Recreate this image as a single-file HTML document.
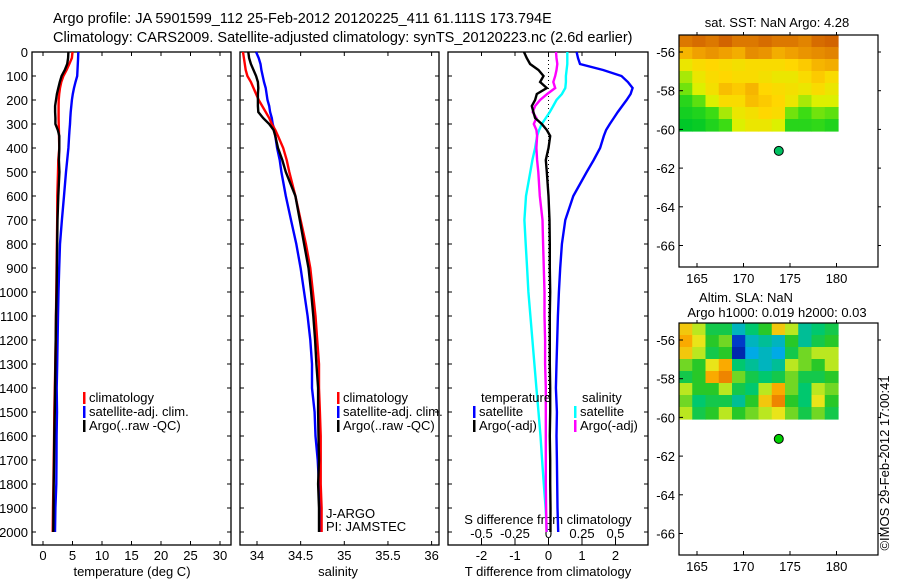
<!DOCTYPE html>
<html><head><meta charset="utf-8"><style>
html,body{margin:0;padding:0;background:#fff;}
svg{display:block;font-family:"Liberation Sans",sans-serif;}
text{fill:#000;}
</style></head><body>
<svg id="fig" width="900" height="580" viewBox="0 0 900 580" xmlns="http://www.w3.org/2000/svg">
<text x="53" y="23" font-size="14.5">Argo profile: JA 5901599_112 25-Feb-2012 20120225_411 61.111S 173.794E</text>
<text x="53" y="42" font-size="14.5">Climatology: CARS2009. Satellite-adjusted climatology: synTS_20120223.nc (2.6d earlier)</text>
<g id="g1"></g>
<g id="g2"></g>
<g id="g3"></g>
<g id="g4"></g>
<g id="g5"></g>
<text transform="translate(889,463) rotate(-90)" text-anchor="middle" font-size="13">©IMOS 29-Feb-2012 17:00:41</text>
</svg>
<script>
const depths=[0,25,50,75,100,125,150,175,200,225,250,275,300,325,350,400,450,500,600,700,800,900,1000,1100,1200,1300,1400,1500,1600,1700,1800,1900,2000];
const tempClim=[5.0,4.9,4.46,4.0,3.45,3.1,2.88,2.75,2.66,2.65,2.65,2.65,2.66,2.7,2.72,2.77,2.6,2.55,2.43,2.4,2.35,2.3,2.25,2.2,2.15,2.08,2.0,1.92,1.88,1.82,1.76,1.7,1.64];
const tempSat=[5.99,5.95,5.9,5.85,5.8,5.5,5.25,5.05,4.9,4.8,4.7,4.62,4.58,4.5,4.42,4.3,4.1,3.9,3.56,3.2,2.88,2.75,2.62,2.55,2.48,2.4,2.32,2.37,2.3,2.28,2.25,2.1,2.03];
const tempArgo=[4.3,4.25,4.1,3.7,3.16,2.85,2.6,2.35,2.2,2.05,2.05,2.1,2.1,2.5,2.77,2.76,2.7,2.78,2.6,2.45,2.4,2.35,2.3,2.2,2.15,2.1,2.05,2.0,1.92,1.88,1.82,1.78,1.75];
const salClim=[33.84,33.85,33.86,33.87,33.89,33.93,33.96,33.99,34.02,34.06,34.10,34.14,34.17,34.21,34.24,34.30,34.34,34.37,34.44,34.50,34.56,34.61,34.64,34.67,34.69,34.71,34.71,34.72,34.73,34.73,34.73,34.74,34.74];
const salSat=[33.99,34.02,34.04,34.05,34.065,34.08,34.1,34.11,34.12,34.14,34.15,34.17,34.18,34.2,34.21,34.23,34.26,34.28,34.33,34.39,34.45,34.50,34.54,34.58,34.61,34.63,34.63,34.66,34.67,34.695,34.71,34.72,34.73];
const salArgo=[33.90,33.91,33.93,33.96,33.99,34.01,34.015,34.01,34.01,34.01,34.015,34.07,34.14,34.19,34.21,34.24,34.29,34.33,34.44,34.49,34.54,34.59,34.62,34.645,34.665,34.68,34.70,34.70,34.705,34.71,34.70,34.71,34.71];
const dTsat=[0.84,0.88,0.94,1.63,2.18,2.37,2.51,2.45,2.33,2.2,2.07,1.95,1.83,1.72,1.65,1.54,1.35,1.14,0.74,0.5,0.40,0.35,0.31,0.28,0.26,0.24,0.22,0.25,0.24,0.25,0.26,0.27,0.29];
const dTargo=[-0.73,-0.65,-0.55,-0.30,-0.15,-0.25,-0.05,-0.35,-0.4,-0.5,-0.45,-0.4,-0.2,-0.05,0.05,0.0,-0.08,-0.05,0.0,0.03,0.04,0.04,0.05,0.04,0.04,0.04,0.05,0.05,0.04,0.05,0.05,0.06,0.06];
const dSargo=[0.056,0.06,0.066,0.06,0.05,0.036,0.05,-0.01,-0.063,-0.1,-0.118,-0.09,-0.11,-0.09,-0.085,-0.09,-0.085,-0.076,-0.065,-0.045,-0.04,-0.035,-0.03,-0.03,-0.025,-0.025,-0.02,-0.02,-0.02,-0.02,-0.02,-0.018,-0.015];
const dSsat=[0.14,0.14,0.14,0.135,0.13,0.13,0.125,0.1,0.06,0.035,0.01,-0.02,-0.05,-0.07,-0.085,-0.1,-0.12,-0.136,-0.168,-0.18,-0.17,-0.16,-0.15,-0.135,-0.12,-0.105,-0.09,-0.075,-0.06,-0.048,-0.035,-0.022,-0.013];
const depthTicks=[0,100,200,300,400,500,600,700,800,900,1000,1100,1200,1300,1400,1500,1600,1700,1800,1900,2000];
const tempTicks=[0,5,10,15,20,25,30];
const salTicks=[34,34.5,35,35.5,36];
const salTickLabels=["34","34.5","35","35.5","36"];
const dTTicks=[-2,-1,0,1,2];
const dSTicks=[-0.5,-0.25,0,0.25,0.5];
const dSTickLabels=["-0.5","-0.25","0","0.25","0.5"];
const lonTicks=[165,170,175,180];
const latTicks=[-56,-58,-60,-62,-64,-66];
const floatLon=173.794, floatLat=-61.111;
const sstGrid=[
[.85,.88,.85,.9,.85,.85,.88,.85,.85,.82,.88,.9],
[.7,.75,.78,.75,.72,.8,.78,.72,.75,.78,.8,.82],
[.55,.6,.62,.6,.58,.6,.6,.6,.62,.65,.7,.72],
[.45,.55,.6,.62,.6,.6,.58,.55,.55,.6,.65,.6],
[.4,.5,.58,.68,.65,.7,.62,.6,.58,.55,.6,.55],
[.3,.38,.5,.6,.6,.68,.65,.62,.55,.45,.5,.5],
[.25,.28,.35,.45,.55,.58,.62,.6,.4,.35,.4,.38],
[.2,.22,.28,.35,.5,.55,.55,.5,.3,.3,.32,.28]];
const slaGrid=[
[.5,.3,0,0,-.3,-.1,.1,.5,.3,-.2,-.1,0],
[.6,.4,.1,.2,-.7,-.3,-.2,-.3,.1,-.2,0,.1],
[.5,.3,0,.1,-.8,-.4,-.3,-.4,0,.2,.3,.3],
[.2,.1,.4,.6,-.1,-.2,-.3,-.2,.3,.2,.1,.3],
[0,.1,.6,.7,.2,0,-.1,0,.2,0,0,.1],
[.3,.1,.1,.3,0,-.1,.3,.6,.2,-.1,.3,.2],
[.2,-.1,0,0,-.2,.1,.5,.7,.1,-.1,.4,.1],
[.3,0,.1,.3,.1,.2,.3,.4,.2,0,.2,0]];

const NS="http://www.w3.org/2000/svg";
function mk(p,tag,a,txt){const e=document.createElementNS(NS,tag);for(const k in a)e.setAttribute(k,a[k]);if(txt!==undefined)e.textContent=txt;p.appendChild(e);return e;}
const yD=d=>52+0.24*d;
const xT=t=>43+t*5.9;
const xS=s=>257+(s-34)*87.3;
const xDT=t=>548.5+t*33.5;
const xDS=s=>548.5+s*134;
const TOP=52,BOT=545;

function frame(g,x0,x1,nm){
  const r=mk(g,'rect',{x:x0,y:TOP,width:x1-x0,height:BOT-TOP,fill:'none',stroke:'#000','stroke-width':1.3});
  
  
}
function curve(g,xs,sx,col,nm){
  const pts=depths.map((d,i)=>sx(xs[i]).toFixed(1)+','+yD(d).toFixed(1)).join(' ');
  const p=mk(g,'polyline',{points:pts,fill:'none',stroke:col,'stroke-width':2.4});
  
  
}
function legend(g,x,y,col,label,nm){
  const r=mk(g,'rect',{x:x,y:y-10,width:2.5,height:12,fill:col});
  
  
  const t=mk(g,'text',{x:x+6,y:y,'font-size':13},label);
  
  
}
// Panel 1
const g1=document.getElementById('g1');
frame(g1,32,231,'temperature-frame');
depthTicks.forEach(d=>{
  mk(g1,'line',{x1:32,x2:36,y1:yD(d),y2:yD(d),stroke:'#000'});
  mk(g1,'line',{x1:227,x2:231,y1:yD(d),y2:yD(d),stroke:'#000'});
  const t=mk(g1,'text',{x:28,y:yD(d)+5,'font-size':13,'text-anchor':'end'},String(d));
  
  
});
tempTicks.forEach(v=>{
  mk(g1,'line',{x1:xT(v),x2:xT(v),y1:BOT,y2:BOT-4,stroke:'#000'});
  mk(g1,'line',{x1:xT(v),x2:xT(v),y1:TOP,y2:TOP+4,stroke:'#000'});
  const t=mk(g1,'text',{x:xT(v),y:560,'font-size':13,'text-anchor':'middle'},String(v));
  
  
});
{const t=mk(g1,'text',{x:132,y:576,'font-size':13,'text-anchor':'middle'},'temperature (deg C)');

}
curve(g1,tempSat,xT,'#0000ff','temperature-satellite-line');
curve(g1,tempClim,xT,'#ff0000','temperature-climatology-line');
curve(g1,tempArgo,xT,'#000000','temperature-argo-line');
legend(g1,83,402,'#ff0000','climatology','legend-climatology');
legend(g1,83,416,'#0000ff','satellite-adj. clim.','legend-satellite');
legend(g1,83,430,'#000000','Argo(..raw -QC)','legend-argo');
// Panel 2
const g2=document.getElementById('g2');
frame(g2,240,439,'salinity-frame');
depthTicks.forEach(d=>{
  mk(g2,'line',{x1:240,x2:244,y1:yD(d),y2:yD(d),stroke:'#000'});
  mk(g2,'line',{x1:435,x2:439,y1:yD(d),y2:yD(d),stroke:'#000'});
});
salTicks.forEach((v,i)=>{
  mk(g2,'line',{x1:xS(v),x2:xS(v),y1:BOT,y2:BOT-4,stroke:'#000'});
  mk(g2,'line',{x1:xS(v),x2:xS(v),y1:TOP,y2:TOP+4,stroke:'#000'});
  const t=mk(g2,'text',{x:xS(v),y:560,'font-size':13,'text-anchor':'middle'},salTickLabels[i]);
  
  
});
{const t=mk(g2,'text',{x:338,y:576,'font-size':13,'text-anchor':'middle'},'salinity');

}
curve(g2,salSat,xS,'#0000ff','salinity-satellite-line');
curve(g2,salClim,xS,'#ff0000','salinity-climatology-line');
curve(g2,salArgo,xS,'#000000','salinity-argo-line');
legend(g2,337,402,'#ff0000','climatology','legend-climatology');
legend(g2,337,416,'#0000ff','satellite-adj. clim.','legend-satellite');
legend(g2,337,430,'#000000','Argo(..raw -QC)','legend-argo');
{let t=mk(g2,'text',{x:326,y:518,'font-size':13},'J-ARGO');


t=mk(g2,'text',{x:326,y:531,'font-size':13},'PI: JAMSTEC');

}
// Panel 3
const g3=document.getElementById('g3');
frame(g3,448,648,'difference-frame');
mk(g3,'line',{x1:xDT(0),x2:xDT(0),y1:TOP,y2:400,stroke:'#000','stroke-width':1,'stroke-dasharray':'1,3'});
depthTicks.forEach(d=>{
  mk(g3,'line',{x1:448,x2:452,y1:yD(d),y2:yD(d),stroke:'#000'});
  mk(g3,'line',{x1:644,x2:648,y1:yD(d),y2:yD(d),stroke:'#000'});
});
dTTicks.forEach(v=>{
  mk(g3,'line',{x1:xDT(v),x2:xDT(v),y1:BOT,y2:BOT-4,stroke:'#000'});
  mk(g3,'line',{x1:xDT(v),x2:xDT(v),y1:TOP,y2:TOP+4,stroke:'#000'});
  const t=mk(g3,'text',{x:xDT(v),y:560,'font-size':13,'text-anchor':'middle'},String(v));
  
  
});
dSTicks.forEach((v,i)=>{
  mk(g3,'line',{x1:xDS(v),x2:xDS(v),y1:BOT-3,y2:BOT-7,stroke:'#000'});
  const t=mk(g3,'text',{x:xDS(v),y:538,'font-size':13,'text-anchor':'middle'},dSTickLabels[i]);
  
  
});
{let t=mk(g3,'text',{x:548,y:576,'font-size':13,'text-anchor':'middle'},'T difference from climatology');


t=mk(g3,'text',{x:548,y:524,'font-size':13,'text-anchor':'middle'},'S difference from climatology');

}
curve(g3,dTsat,xDT,'#0000ff','t-diff-satellite-line');
curve(g3,dSsat,xDS,'#00ffff','s-diff-satellite-line');
curve(g3,dSargo,xDS,'#ff00ff','s-diff-argo-line');
curve(g3,dTargo,xDT,'#000000','t-diff-argo-line');
{let t=mk(g3,'text',{x:481,y:402,'font-size':13},'temperature');


t=mk(g3,'text',{x:582,y:402,'font-size':13},'salinity');

}
legend(g3,473,416,'#0000ff','satellite','legend-t-satellite');
legend(g3,473,430,'#000000','Argo(-adj)','legend-t-argo');
legend(g3,574,416,'#00ffff','satellite','legend-s-satellite');
legend(g3,574,430,'#ff00ff','Argo(-adj)','legend-s-argo');
// Maps
function lerpCol(stops,v){
  v=Math.max(0,Math.min(1,v));
  for(let i=0;i<stops.length-1;i++){const a=stops[i],b=stops[i+1];
    if(v<=b[0]){const f=(v-a[0])/(b[0]-a[0]||1);
      return 'rgb('+[1,2,3].map(k=>Math.round(a[k]+(b[k]-a[k])*f)).join(',')+')';}}
  const l=stops[stops.length-1];return 'rgb('+l[1]+','+l[2]+','+l[3]+')';
}
const sstStops=[[0,0,160,200],[0.2,0,200,40],[0.35,60,220,20],[0.5,220,240,0],[0.62,255,215,0],[0.75,240,160,0],[0.9,210,100,0],[1,180,60,0]];
const slaStops=[[0,0,0,120],[0.15,0,60,200],[0.3,0,170,230],[0.45,0,200,110],[0.55,40,200,40],[0.68,230,240,30],[0.8,250,170,0],[0.92,220,80,0],[1,170,20,0]];
function map(g,y0,title,grid,colf,stops,dotCol,nm){
  const lx=lon=>697+(lon-165)*9.3;
  const ly=lat=>52+(-56-lat)*19.35+(y0-35);
  const x0=679,x1=878,yb=y0+232;
  const rows=grid.length,cols=grid[0].length,w=(838-679)/cols,h=96/rows;
  grid.forEach((row,r)=>row.forEach((v,c)=>{
    const e=mk(g,'rect',{x:(x0+c*w).toFixed(2),y:(y0+r*h).toFixed(2),width:(w+0.6).toFixed(2),height:(h+0.6).toFixed(2),fill:lerpCol(stops,colf(v))});
    
    
  }));
  const fr=mk(g,'rect',{x:x0,y:y0,width:x1-x0,height:yb-y0,fill:'none',stroke:'#000','stroke-width':1.2});
  
  
  lonTicks.forEach(v=>{
    mk(g,'line',{x1:lx(v),x2:lx(v),y1:y0,y2:y0-3,stroke:'#000'});
    mk(g,'line',{x1:lx(v),x2:lx(v),y1:yb,y2:yb-4,stroke:'#000'});
    const t=mk(g,'text',{x:lx(v),y:yb+16,'font-size':13,'text-anchor':'middle'},String(v));
    
    
  });
  latTicks.forEach(v=>{
    mk(g,'line',{x1:x0,x2:x0+4,y1:ly(v),y2:ly(v),stroke:'#000'});
    mk(g,'line',{x1:x1,x2:x1+3,y1:ly(v),y2:ly(v),stroke:'#000'});
    const t=mk(g,'text',{x:675,y:ly(v)+5,'font-size':13,'text-anchor':'end'},String(v).replace('-','-'));
    
    
  });
  const c=mk(g,'circle',{cx:lx(floatLon),cy:ly(floatLat),r:4.5,fill:dotCol,stroke:'#000','stroke-width':1});
  
  
  title.forEach((tt,i)=>{
    const t=mk(g,'text',{x:tt[1],y:tt[2],'font-size':13,'text-anchor':'middle'},tt[0]);
    
    
  });
}
map(document.getElementById('g4'),35,[['sat. SST: NaN Argo: 4.28',777,27]],sstGrid,v=>v,sstStops,'#00c060','sst-map');
map(document.getElementById('g5'),323,[['Altim. SLA: NaN',746,302],['Argo h1000: 0.019 h2000: 0.03',777,317]],slaGrid,v=>(v+1)/2,slaStops,'#00d000','sla-map');
</script>
</body></html>
